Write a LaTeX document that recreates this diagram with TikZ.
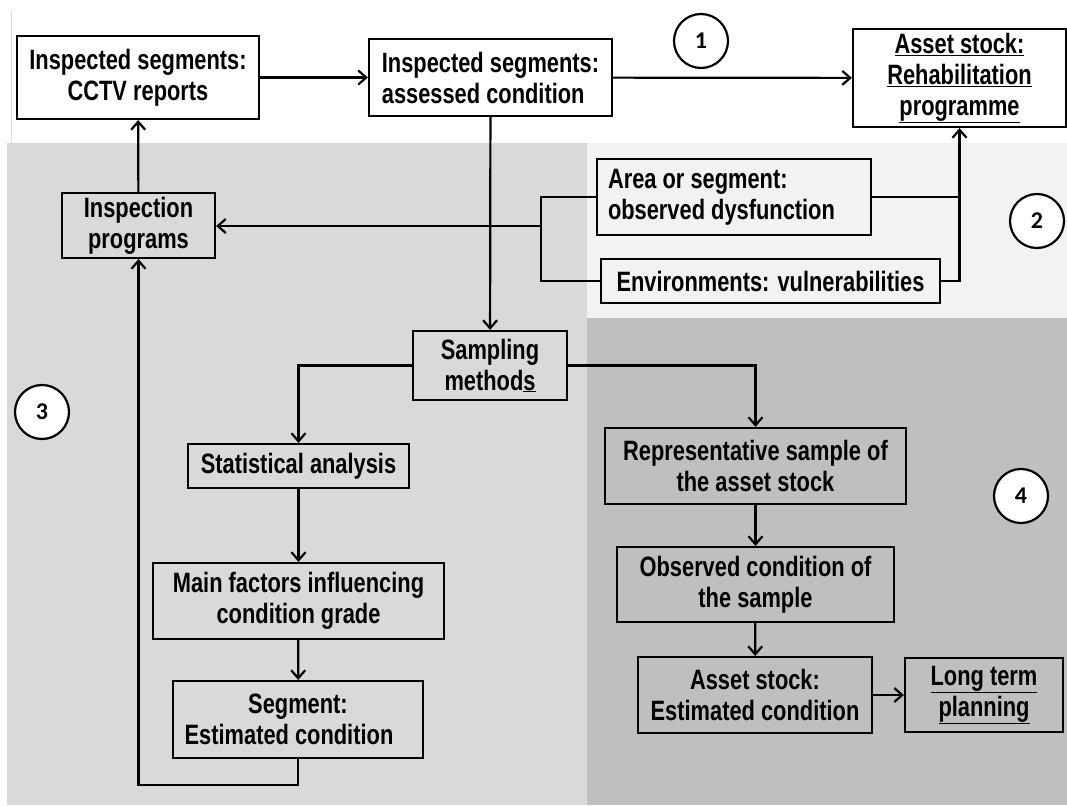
\documentclass[tikz,border=0pt]{standalone}
\usepackage{fontspec}
\setmainfont{Liberation Sans}[FakeStretch=0.78]
\newfontfamily\chiffres{Carlito}
\usepackage{tikz}
\usetikzlibrary{arrows.meta,calc}
\definecolor{zonedeux}{HTML}{F2F2F2}
\definecolor{zonetrois}{HTML}{D9D9D9}
\definecolor{zonequatre}{HTML}{BFBFBF}
\tikzset{bloc/.style={
    draw=black,
    line width=2.2pt,
    inner sep=0pt,
    align=center,
    font=\bfseries\fontsize{28}{31}\selectfont}}
\tikzset{trait/.style={
    draw=black,
    line width=2.2pt}}
\tikzset{fleche/.style={
    trait,
    -{Straight Barb[length=8pt,width=14pt]}}}
\tikzset{numero/.style={
    draw=black,
    fill=white,
    circle,
    line width=2.2pt,
    minimum size=54pt,
    inner sep=0pt,
    font=\chiffres\bfseries\fontsize{24}{24}\selectfont}}

\begin{document}
\begin{tikzpicture}[x=1pt,y=-1pt]
\useasboundingbox (0,0) rectangle (1067,805);
% zones
\path[fill=zonetrois] (7,143) rectangle (587,805);
\path[fill=zonedeux] (587,143) rectangle (1067,318);
\path[fill=zonequatre] (587,318) rectangle (1067,805);
\path[draw=black!12,line width=1pt] (11,10) -- (11,143);

\coordinate (A) at (138,77.5);
\coordinate (B) at (490.5,77.5);
\coordinate (C) at (959.5,78);
\coordinate (D) at (734,197);
\coordinate (E) at (770.5,281);
\coordinate (F) at (138.5,225.5);
\coordinate (G) at (490,365.5);
\coordinate (H) at (298.5,466);
\coordinate (I) at (298.5,601);
\coordinate (J) at (298,719.5);
\coordinate (K) at (755.5,466);
\coordinate (L) at (755.5,584.5);
\coordinate (M) at (755,695);
\coordinate (N) at (984,695);

\node[bloc,fill=white,minimum width=242pt,minimum height=83pt] (cctv) at (A) {Inspected segments:\\CCTV reports};
\node[bloc,fill=white,minimum width=243pt,minimum height=77pt,align=left] (assessed) at (B) {Inspected segments:\\assessed condition};
\node[bloc,fill=white,minimum width=213pt,minimum height=98pt] (rehab) at (C) {\underline{Asset stock:}\\\underline{Rehabilitation}\\\underline{programme}};
\node[bloc,minimum width=274pt,minimum height=76pt,text width=252pt,align=flush left] (dysf) at (D) {Area or segment:\\observed dysfunction};
\node[bloc,minimum width=339pt,minimum height=44pt] (vuln) at (E) {Environments: vulnerabilities};
\node[bloc,minimum width=153pt,minimum height=65pt] (insp) at (F) {Inspection\\programs};
\node[bloc,minimum width=154pt,minimum height=69pt] (sampl) at (G) {Sampling\\method\underline{s}};
\node[bloc,minimum width=221pt,minimum height=44pt] (stat) at (H) {Statistical analysis};
\node[bloc,minimum width=291pt,minimum height=76pt] (factors) at (I) {Main factors influencing\\condition grade};
\node[bloc,minimum width=250pt,minimum height=77pt] (segest) at (J) {Segment:\\Estimated condition\hspace*{18pt}};
\node[bloc,minimum width=301pt,minimum height=76pt] (repr) at (K) {Representative sample of\\the asset stock};
\node[bloc,minimum width=277pt,minimum height=75pt] (obs) at (L) {Observed condition of\\the sample};
\node[bloc,minimum width=234pt,minimum height=76pt] (stockest) at (M) {Asset stock:\\Estimated condition};
\node[bloc,minimum width=158pt,minimum height=74pt] (longterm) at (N) {\underline{Long term}\\\underline{planning}};

\node[numero] (n1) at (701,41) {1};
\node[numero] (n2) at (1037,221) {2};
\node[numero] (n3) at (42,412) {3};
\node[numero] (n4) at (1021,496) {4};

\coordinate (branch) at (541,226);

\path[fleche] (cctv) -- (assessed);
\path[fleche] (assessed) -- (rehab);
\path[fleche] (assessed) -- (sampl);
\path[trait] (dysf.east) -- (dysf.east -| rehab.south);
\path[fleche] (vuln.east) -| (rehab.south);
\path[trait] (dysf.west) -| (branch |- vuln.west) -- (vuln.west);
\path[fleche] (branch) -- (insp.east |- branch);
\path[fleche] (insp) -- (cctv);
\path[fleche] (sampl.west) -| (stat.north);
\path[fleche] (sampl.east) -| (repr.north);
\path[fleche] (stat) -- (factors);
\path[fleche] (factors) -- (segest);
\path[fleche] (segest.south) -- ++(0,26) -| (insp.south);
\path[fleche] (repr) -- (obs);
\path[fleche] (obs) -- (stockest);
\path[fleche] (stockest) -- (longterm);
\end{tikzpicture}
\end{document}
